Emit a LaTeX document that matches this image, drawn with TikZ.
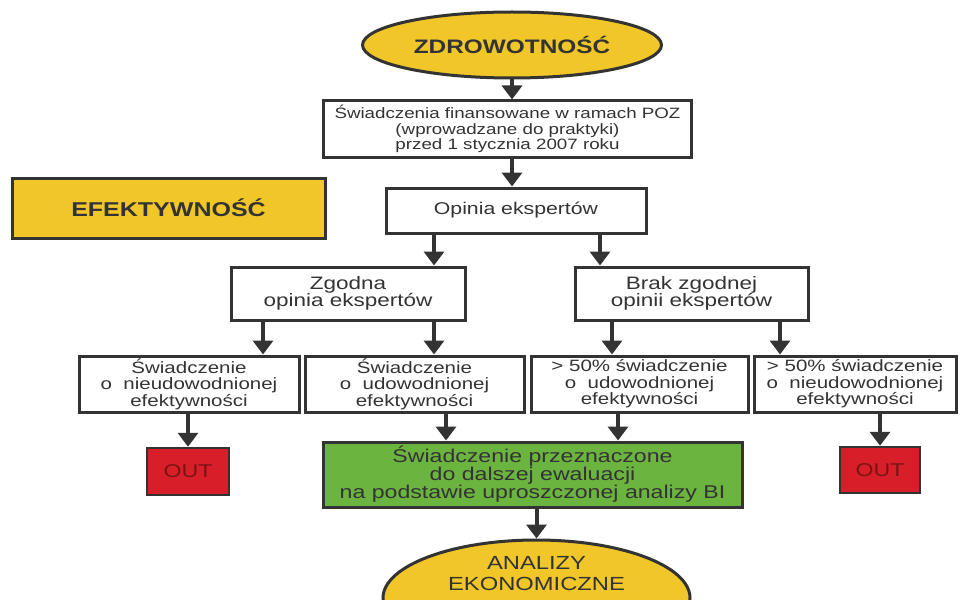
\documentclass[tikz,border=0pt]{standalone}
\usepackage{fontspec}
\setmainfont{Liberation Sans}[FakeStretch=1.25]
\usetikzlibrary{shapes.geometric,arrows.meta}
\definecolor{ink}{HTML}{333333}
\definecolor{gold}{HTML}{F0C628}
\definecolor{leaf}{HTML}{6CB440}
\definecolor{alarm}{HTML}{D81E28}
\definecolor{alarmtext}{HTML}{7A1414}

\begin{document}
\begin{tikzpicture}[x=1pt,y=-1pt,
  box/.style={rectangle, draw=ink, line width=3pt, fill=white, inner sep=0pt,
    align=center, text=ink},
  oval/.style={ellipse, draw=ink, line width=3pt, fill=gold, inner sep=0pt, text=ink},
  rowbox/.style={box, minimum height=56pt, font=\fontsize{16.4}{16.5}\selectfont},
  outbox/.style={box, fill=alarm, text=alarmtext, line width=2.5pt,
    font=\fontsize{18.5}{20}\selectfont},
  arr/.style={draw=ink, line width=4pt, -{Triangle[width=20pt,length=14pt]}}]

\useasboundingbox (0,0) rectangle (960,599);
\fill[white] (0,0) rectangle (960,599);
\clip (0,0) rectangle (960,599);

% start and the first filter
\node[oval, minimum width=299pt, minimum height=66pt,
  font=\bfseries\fontsize{19.5}{22}\selectfont] (zdr) at (512,45) {ZDROWOTNOŚĆ};
\node[box, minimum width=368pt, minimum height=56pt,
  font=\fontsize{15}{15.5}\selectfont] (poz) at (507.5,129)
  {Świadczenia finansowane w ramach POZ\\(wprowadzane do praktyki)\\przed 1 stycznia 2007 roku};

% side label
\node[box, fill=gold, minimum width=313pt, minimum height=60pt,
  font=\bfseries\fontsize{20}{24}\selectfont] (eff) at (168.5,208) {EFEKTYWNOŚĆ};

% expert opinion
\node[box, minimum width=260pt, minimum height=45pt,
  font=\fontsize{17}{20}\selectfont] (op) at (516,210.5) {Opinia ekspertów};
\node[box, minimum width=234pt, minimum height=53pt,
  font=\fontsize{18}{17.5}\selectfont] (zg) at (348,293.5) {Zgodna\\opinia ekspertów};
\node[box, minimum width=233pt, minimum height=53pt,
  font=\fontsize{18}{17.5}\selectfont] (br) at (691.5,293.5) {Brak zgodnej\\opinii ekspertów};

% classification of the services
\node[rowbox, minimum width=220pt] (ba) at (189,384)
  {Świadczenie\\o~~nieudowodnionej\\efektywności};
\node[rowbox, minimum width=219pt] (bb) at (414.5,384)
  {Świadczenie\\o~~udowodnionej\\efektywności};
\node[rowbox, minimum width=217pt] (bc) at (639.5,384)
  {> 50\% świadczenie\\o~~udowodnionej\\efektywności};
\node[rowbox, minimum width=202pt] (bd) at (855,384)
  {> 50\% świadczenie\\o~~nieudowodnionej\\efektywności};

% outcomes
\node[outbox, minimum width=82pt, minimum height=47pt] (out1) at (188,471.5) {OUT};
\node[outbox, minimum width=80pt, minimum height=46pt] (out2) at (880,470) {OUT};
\node[box, fill=leaf, minimum width=419pt, minimum height=65pt,
  font=\fontsize{18.5}{18}\selectfont] (grn) at (532.5,474.5)
  {Świadczenie przeznaczone\\do dalszej ewaluacji\\na podstawie uproszczonej analizy BI};
\node[oval, minimum width=307pt, minimum height=116pt] (ane) at (536.5,598) {};
\node[inner sep=0pt, align=center, text=ink,
  font=\fontsize{19}{21}\selectfont] (anet) at (536.5,574) {ANALIZY\\EKONOMICZNE};

% arrow columns
\coordinate (xl) at (434,0);
\coordinate (xr) at (600,0);
\coordinate (xa) at (263,0);
\coordinate (xb) at (434,0);
\coordinate (xc) at (612,0);
\coordinate (xd) at (780,0);
\coordinate (xg) at (446,0);
\coordinate (xh) at (618,0);

% connectors
\draw[arr] (zdr.south) -- (zdr.south |- poz.north);
\draw[arr] (poz.south -| zdr.south) -- (op.north -| zdr.south);
\draw[arr] (op.south -| xl) -- (zg.north -| xl);
\draw[arr] (op.south -| xr) -- (br.north -| xr);
\draw[arr] (zg.south -| xa) -- (ba.north -| xa);
\draw[arr] (zg.south -| xb) -- (bb.north -| xb);
\draw[arr] (br.south -| xc) -- (bc.north -| xc);
\draw[arr] (br.south -| xd) -- (bd.north -| xd);
\draw[arr] (ba.south -| out1.north) -- (out1.north);
\draw[arr] (bd.south -| out2.north) -- (out2.north);
\draw[arr] (bb.south -| xg) -- (grn.north -| xg);
\draw[arr] (bc.south -| xh) -- (grn.north -| xh);
\draw[arr] (grn.south -| ane.north) -- (ane.north);
\end{tikzpicture}
\end{document}
